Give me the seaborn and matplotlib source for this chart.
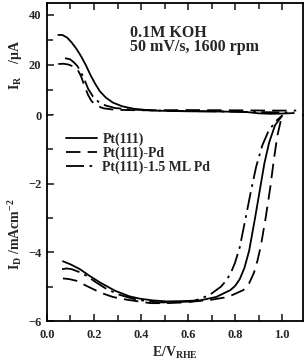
import numpy as np
import pandas as pd
import matplotlib
matplotlib.use("Agg")
import matplotlib.pyplot as plt
import seaborn as sns
from matplotlib.ticker import MultipleLocator
from matplotlib.lines import Line2D

# ring current (uA) vs potential (V RHE)
ring_pt_E = [0.048, 0.065, 0.085, 0.105, 0.125, 0.145, 0.165, 0.185, 0.205, 0.225, 0.25, 0.28, 0.32, 0.37,
             0.45, 0.6, 0.75, 0.85, 0.9, 0.95, 1.0, 1.05]
ring_pt_I = [32.0, 32.0, 31.0, 29.0, 26.5, 23.5, 20.0, 16.0, 12.5, 9.5, 7.0, 5.0, 3.5, 2.5,
             1.8, 1.5, 1.4, 1.2, 0.7, 0.5, 0.6, 0.8]
ring_pd_E = [0.048, 0.07, 0.09, 0.11, 0.13, 0.145, 0.16, 0.175, 0.19, 0.21, 0.24, 0.29, 0.4, 0.6, 0.8, 0.95, 1.06]
ring_pd_I = [20.4, 20.5, 20.2, 19.5, 18.2, 15.5, 11.5, 8.0, 5.5, 3.8, 2.7, 2.1, 1.9, 2.0, 1.9, 1.8, 1.8]
ring_15_E = [0.077, 0.098, 0.115, 0.13, 0.145, 0.16, 0.175, 0.195, 0.22, 0.25, 0.29, 0.36, 0.5, 0.7, 0.9, 1.05]
ring_15_I = [22.7, 22.3, 21.0, 19.5, 17.0, 14.0, 10.5, 7.5, 5.2, 3.8, 2.8, 2.2, 1.7, 1.5, 1.2, 1.0]

# disk current (mA cm-2)
disk_pt_E = [0.068, 0.10, 0.14, 0.18, 0.226, 0.29, 0.35, 0.395, 0.45, 0.51, 0.58, 0.65, 0.72, 0.78,
             0.80, 0.82, 0.84, 0.86, 0.885, 0.905, 0.925, 0.945, 0.97, 1.0]
disk_pt_I = [-4.26, -4.35, -4.49, -4.68, -4.88, -5.12, -5.28, -5.35, -5.40, -5.43, -5.42, -5.40, -5.30, -5.10,
             -4.98, -4.78, -4.45, -3.95, -3.00, -2.20, -1.40, -0.80, -0.30, -0.02]
disk_pd_E = [0.068, 0.095, 0.126, 0.175, 0.226, 0.28, 0.34, 0.44, 0.51, 0.58, 0.64, 0.70, 0.77, 0.835,
             0.86, 0.88, 0.895, 0.91, 0.93, 0.95, 0.965, 0.98, 0.995, 1.0]
disk_pd_I = [-4.76, -4.78, -4.83, -5.00, -5.17, -5.30, -5.38, -5.48, -5.48, -5.46, -5.42, -5.38, -5.30, -5.10,
             -4.90, -4.60, -4.25, -3.80, -3.00, -2.10, -1.30, -0.60, -0.15, -0.02]
disk_15_E = [0.064, 0.085, 0.105, 0.14, 0.17, 0.21, 0.254, 0.31, 0.37, 0.43, 0.48, 0.55, 0.62, 0.69, 0.74,
             0.765, 0.785, 0.80, 0.82, 0.845, 0.868, 0.89, 0.915, 0.94, 0.97, 1.0]
disk_15_I = [-4.49, -4.47, -4.49, -4.58, -4.69, -4.88, -5.07, -5.24, -5.36, -5.43, -5.46, -5.45, -5.43, -5.25, -5.00,
             -4.80, -4.55, -4.30, -3.85, -3.00, -2.20, -1.50, -0.90, -0.50, -0.20, -0.02]

labels = ["Pt(111)", "Pt(111)-Pd", "Pt(111)-1.5 ML Pd"]
styles = ["-", (0, (8, 4)), (0, (10, 3, 1.5, 3))]

sns.set_style("ticks")
plt.rcParams["font.family"] = ["Liberation Serif", "DejaVu Serif"]
plt.rcParams["font.weight"] = "bold"
plt.rcParams["mathtext.fontset"] = "custom"
plt.rcParams["mathtext.rm"] = "Liberation Serif:bold"
plt.rcParams["mathtext.it"] = "Liberation Serif:bold"
plt.rcParams["mathtext.bf"] = "Liberation Serif:bold"

fig = plt.figure(figsize=(3.07, 3.63), dpi=100)
ax_r = fig.add_axes([0.153, 0.683, 0.834, 0.309])
ax_d = fig.add_axes([0.153, 0.1157, 0.834, 0.5675], sharex=ax_r)

ring = [(ring_pt_E, ring_pt_I), (ring_pd_E, ring_pd_I), (ring_15_E, ring_15_I)]
disk = [(disk_pt_E, disk_pt_I), (disk_pd_E, disk_pd_I), (disk_15_E, disk_15_I)]

for (E, I), ls in zip(ring, styles):
    sns.lineplot(x=E, y=I, ax=ax_r, color="black", lw=1.3, sort=False)
    ax_r.lines[-1].set_linestyle(ls)
    ax_r.lines[-1].set_clip_on(False)
for (E, I), ls in zip(disk, styles):
    sns.lineplot(x=E, y=I, ax=ax_d, color="black", lw=1.3, sort=False)
    ax_d.lines[-1].set_linestyle(ls)
    ax_d.lines[-1].set_clip_on(False)

ax_r.set_xlim(0, 1.089)
ax_r.set_ylim(0, 44.8)
ax_d.set_ylim(-6, 0)

for ax in (ax_r, ax_d):
    for sp in ax.spines.values():
        sp.set_linewidth(1.3)
        sp.set_color("black")
    ax.xaxis.set_major_locator(MultipleLocator(0.2))
    ax.xaxis.set_minor_locator(MultipleLocator(0.1))
    ax.tick_params(which="both", direction="in", width=1.2, labelsize=9, pad=4)
    ax.tick_params(which="major", length=5)
    ax.tick_params(which="minor", length=4)

ax_r.spines["bottom"].set_visible(False)
ax_d.spines["top"].set_visible(False)
ax_r.tick_params(axis="x", which="both", top=True, bottom=False, labelbottom=False)
ax_d.tick_params(axis="x", which="both", top=False, bottom=True, pad=6)
ax_r.tick_params(axis="y", which="both", right=False)
ax_d.tick_params(axis="y", which="both", right=False)

ax_r.yaxis.set_major_locator(MultipleLocator(20))
ax_r.yaxis.set_minor_locator(MultipleLocator(10))
ax_d.set_yticks([-6, -4, -2])
ax_d.yaxis.set_minor_locator(MultipleLocator(1))
ax_d.set_xticks([0.0, 0.2, 0.4, 0.6, 0.8, 1.0])
ax_d.set_xticklabels(["0.0", "0.2", "0.4", "0.6", "0.8", "1.0"])

ax_r.set_ylabel(r"I$_{\mathrm{R}}$    /$\mu$A", fontsize=10, fontweight="bold")
ax_d.set_ylabel(r"I$_{\mathrm{D}}$ /mAcm$^{\mathrm{-2}}$", fontsize=10, fontweight="bold")
ax_d.set_xlabel(r"E/V$_{\mathrm{RHE}}$", fontsize=10, fontweight="bold")
ax_r.yaxis.set_label_coords(-0.09, 0.45)
ax_d.yaxis.set_label_coords(-0.09, 0.42)
ax_d.xaxis.set_label_coords(0.5, -0.115)

ax_r.text(0.324, 0.67, "0.1M KOH\n50 mV/s, 1600 rpm", transform=ax_r.transAxes,
          fontsize=11.5, fontweight="bold", va="center", ha="left", linespacing=0.85)

handles = [Line2D([], [], color="black", lw=1.3, linestyle=ls) for ls in styles]
ax_d.legend(handles, labels, loc="upper left", bbox_to_anchor=(0.04, 0.955),
            frameon=False, fontsize=10, handlelength=2.3, handletextpad=0.35,
            labelspacing=0.05, borderaxespad=0.2)

fig.savefig("out.png", dpi=100)
